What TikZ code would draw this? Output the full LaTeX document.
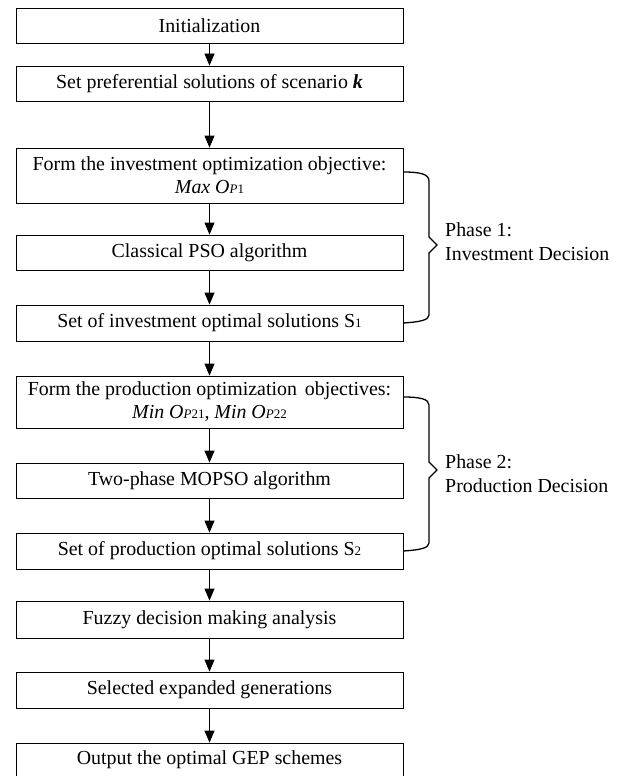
\documentclass[tikz,border=0pt]{standalone}
\usepackage{fontspec}
\setmainfont{Liberation Serif}
\usetikzlibrary{arrows.meta}
\newcommand{\smallsub}[1]{{\fontsize{13}{13}\selectfont #1}}
\begin{document}
\begin{tikzpicture}[x=1pt,y=-1pt,
 stepbox/.style={draw, line width=0.8pt, minimum width=387pt, inner sep=0pt, align=center, font=\fontsize{19.9}{23}\selectfont},
 flow/.style={draw, line width=0.8pt, -{Triangle[length=12pt,width=10pt]}},
 bracepath/.style={draw, line width=1.3pt},
 lbl/.style={anchor=west, align=left, font=\fontsize{19.9}{24}\selectfont, inner sep=0pt}]
\useasboundingbox (0,0) rectangle (626,776);
\node[stepbox, minimum height=35pt] (b1) at (209.5,25.5) {Initialization};
\node[stepbox, minimum height=35pt] (b2) at (209.5,83.5) {Set preferential solutions of scenario \textbf{\textit{k}}};
\node[stepbox, minimum height=55pt] (b3) at (209.5,175.5) {Form the investment optimization objective:\\ \textit{Max O}\smallsub{\textit{P}1}};
\node[stepbox, minimum height=35pt] (b4) at (209.5,252.5) {Classical PSO algorithm};
\node[stepbox, minimum height=36pt] (b5) at (209.5,323) {Set of investment optimal solutions S\smallsub{1}};
\node[stepbox, minimum height=52pt] (b6) at (209.5,402) {Form the production optimization\hspace{0.4em}objectives:\\ \textit{Min O}\smallsub{\textit{P}21}, \textit{Min O}\smallsub{\textit{P}22}};
\node[stepbox, minimum height=35pt] (b7) at (209.5,480.5) {Two-phase MOPSO algorithm};
\node[stepbox, minimum height=36pt] (b8) at (209.5,551) {Set of production optimal solutions S\smallsub{2}};
\node[stepbox, minimum height=37pt] (b9) at (209.5,619.5) {Fuzzy decision making analysis};
\node[stepbox, minimum height=36pt] (b10) at (209.5,690) {Selected expanded generations};
\node[stepbox, minimum height=34pt] (b11) at (209.5,760) {Output the optimal GEP schemes};
\foreach \a/\b in {b1/b2,b2/b3,b3/b4,b4/b5,b5/b6,b6/b7,b7/b8,b8/b9,b9/b10,b10/b11}
  \draw[flow] (\a.south) -- (\b.north);
\coordinate (q1s) at (403,172);
\coordinate (q1e) at (403,323);
\coordinate (q2s) at (403,397);
\coordinate (q2e) at (403,551);
\draw[bracepath] (q1s) .. controls (420,172) and (429,174) .. (429,181) -- (429,237) -- (437,245) -- (429,253) -- (429,315) .. controls (429,320) and (420,322) .. (q1e);
\draw[bracepath] (q2s) .. controls (420,397) and (429,399) .. (429,405) -- (429,462) -- (437,470) -- (429,478) -- (429,543) .. controls (429,548) and (420,550) .. (q2e);
\node[lbl] (ph1) at (445,242) {Phase 1:\\Investment Decision};
\node[lbl] (ph2) at (445,474) {Phase 2:\\Production Decision};
\end{tikzpicture}
\end{document}
